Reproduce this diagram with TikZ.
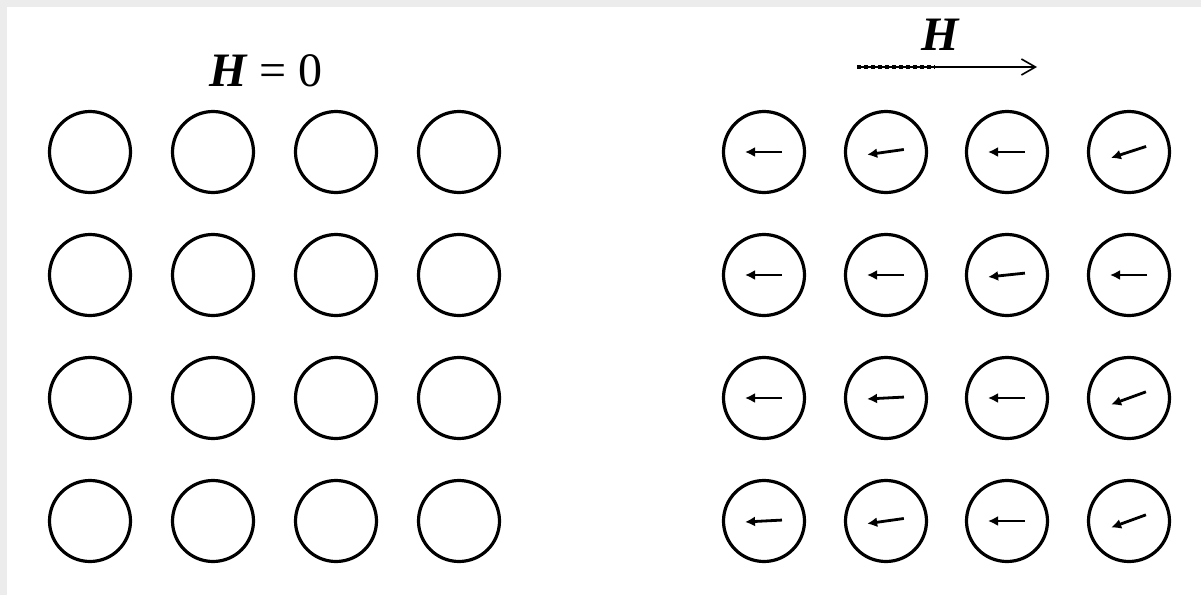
\documentclass[tikz,border=0pt]{standalone}
\usepackage{fontspec}
\setmainfont{Liberation Serif}
\usepackage{tikz}
\usetikzlibrary{arrows.meta,calc}
\definecolor{framegray}{RGB}{236,236,236}

\begin{document}
\begin{tikzpicture}[x=0.5pt, y=-0.5pt,
    site/.style={circle, draw, line width=1.6pt, minimum size=40.5pt, inner sep=0pt},
    spin/.style={line width=1.4pt, -{Latex[length=5pt, width=5pt]}},
    fieldtext/.style={font=\fontsize{24}{28}\selectfont, inner sep=0pt}
  ]
  \fill[white] (0,0) rectangle (1201,595);
  \useasboundingbox (0,0) rectangle (1201,595);
  \fill[framegray] (0,0) rectangle (1201,7);
  \fill[framegray] (0,0) rectangle (7,595);

  \foreach \row/\y in {1/152,2/275,3/398,4/521} {
    \foreach \col/\x in {1/90,2/213,3/336,4/459}
      \node[site] (a-\row-\col) at (\x,\y) {};
    \foreach \col/\x in {1/764,2/886,3/1007,4/1129}
      \node[site] (b-\row-\col) at (\x,\y) {};
  }

  \foreach \row/\col/\tilt in {1/1/0, 1/2/8, 1/3/0, 1/4/18,
                               2/1/0, 2/2/0, 2/3/6, 2/4/0,
                               3/1/0, 3/2/3, 3/3/0, 3/4/20,
                               4/1/3, 4/2/8, 4/3/0, 4/4/20}
    \draw[spin] ($(b-\row-\col.center)+(-\tilt:18)$) -- ($(b-\row-\col.center)+(180-\tilt:19)$);

  \node[fieldtext] (h0) at (266,71) {{\bfseries\itshape H} = 0};
  \node[fieldtext] (hf) at (940,35) {\bfseries\itshape H};

  \coordinate (hs) at (857,67);
  \coordinate (he) at (1037,67);
  \draw[line width=0.8pt, -{Straight Barb[length=7pt, width=8pt]}] (hs) -- (he);
  \draw[line width=1.6pt, dash pattern=on 2pt off 1.5pt] (hs) -- ($(hs)!0.43!(he)$);
\end{tikzpicture}
\end{document}
